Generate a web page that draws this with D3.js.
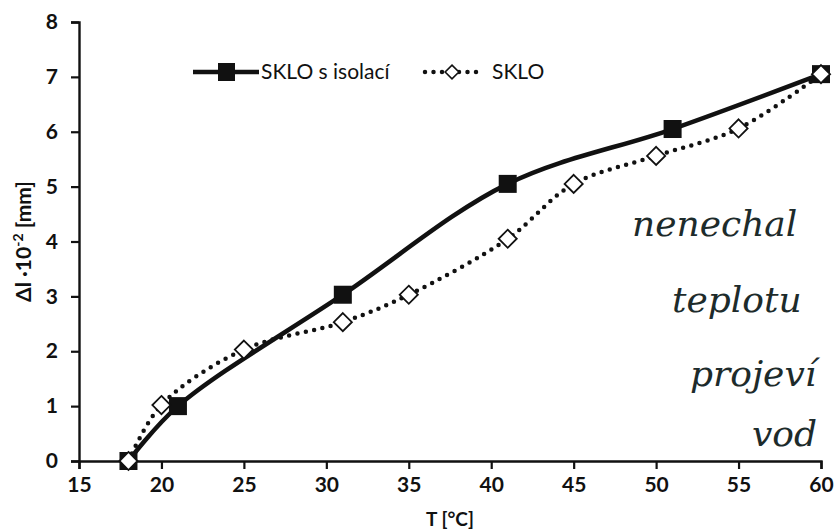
<!DOCTYPE html>
<html>
<head>
<meta charset="utf-8">
<script src="https://cdn.jsdelivr.net/npm/d3@7"></script>
<style>
body{margin:0;background:#fff;}
text{font-family:Lato,"Open Sans",sans-serif;}
</style>
</head>
<body>
<div id="plot"></div>
<script>
// data
var tIso = [18, 21, 31, 41, 51, 60];
var dlIso = [0, 1, 3.03, 5.05, 6.05, 7.05];
var tSklo = [18, 20, 25, 31, 35, 41, 45, 50, 55, 60];
var dlSklo = [0, 1.02, 2.03, 2.53, 3.03, 4.05, 5.05, 5.56, 6.06, 7.05];
var xTicks = [15, 20, 25, 30, 35, 40, 45, 50, 55, 60];
var yTicks = [0, 1, 2, 3, 4, 5, 6, 7, 8];
var seriesNames = ['SKLO s isolací', 'SKLO'];
var note = ['nenechal', 'teplotu', 'projeví', 'vod'];

var W = 837, H = 532;
var margin = {t:22, r:16, b:71, l:79};

var svg = d3.select('#plot').append('svg')
	.attr('width', W).attr('height', H);

var x = d3.scaleLinear().domain([15, 60]).range([margin.l, W - margin.r]);
var y = d3.scaleLinear().domain([0, 8]).range([H - margin.b, margin.t]);

// handwritten note on the sheet (behind the chart)
var notePos = [[632, 236], [672, 312], [690, 386], [752, 446]];
svg.selectAll('.note').data(note).enter().append('text')
	.attr('class', 'note')
	.attr('x', function(d, i){ return notePos[i][0]; })
	.attr('y', function(d, i){ return notePos[i][1]; })
	.style('font-family', '"DejaVu Serif", serif')
	.style('font-style', 'italic')
	.style('font-size', '36px')
	.attr('fill', '#1d2b2b')
	.text(function(d){ return d; });

// axes
var xAxis = svg.append('g')
	.attr('transform', 'translate(0,' + y(0) + ')')
	.call(d3.axisBottom(x).tickValues(xTicks).tickSize(8).tickPadding(8));
var yAxis = svg.append('g')
	.attr('transform', 'translate(' + x(15) + ',0)')
	.call(d3.axisLeft(y).tickValues(yTicks).tickSize(8).tickPadding(13));
[xAxis, yAxis].forEach(function(a){
	a.select('.domain').attr('stroke', '#111').attr('stroke-width', 2.4);
	a.selectAll('.tick line').attr('stroke', '#111').attr('stroke-width', 2.2);
	a.selectAll('.tick text')
		.attr('font-family', 'Lato, sans-serif')
		.attr('font-weight', 'bold')
		.attr('font-size', 21)
		.attr('fill', '#111');
});

// axis titles
svg.append('text')
	.attr('x', (x(15) + x(60)) / 2).attr('y', 526)
	.attr('text-anchor', 'middle')
	.attr('font-weight', 'bold').attr('font-size', 19)
	.attr('fill', '#111')
	.text('T [°C]');

var yt = svg.append('text')
	.attr('transform', 'translate(31,' + ((y(0) + y(8)) / 2) + ') rotate(-90)')
	.attr('text-anchor', 'middle')
	.attr('font-weight', 'bold').attr('font-size', 21)
	.attr('fill', '#111');
yt.append('tspan').text('Δl ·10');
yt.append('tspan').attr('dy', -8).attr('font-size', 14).text('-2');
yt.append('tspan').attr('dy', 8).text(' [mm]');

// lines
var line = d3.line()
	.x(function(d){ return x(d[0]); })
	.y(function(d){ return y(d[1]); })
	.curve(d3.curveCatmullRom.alpha(0.5));

var isoPts = tIso.map(function(t, i){ return [t, dlIso[i]]; });
var skloPts = tSklo.map(function(t, i){ return [t, dlSklo[i]]; });

svg.append('path').datum(skloPts)
	.attr('d', line)
	.attr('fill', 'none').attr('stroke', '#111')
	.attr('stroke-width', 4.5).attr('stroke-linecap', 'round')
	.attr('stroke-dasharray', '0,8.5');

svg.append('path').datum(isoPts)
	.attr('d', line)
	.attr('fill', 'none').attr('stroke', '#111')
	.attr('stroke-width', 4.5);

// markers
svg.selectAll('.sq').data(isoPts).enter().append('rect')
	.attr('class', 'sq')
	.attr('x', function(d){ return x(d[0]) - 9; })
	.attr('y', function(d){ return y(d[1]) - 9; })
	.attr('width', 18).attr('height', 18)
	.attr('fill', '#111');

var diamond = d3.symbol().type(d3.symbolDiamond2).size(210);
svg.selectAll('.dm').data(skloPts).enter().append('path')
	.attr('class', 'dm')
	.attr('d', diamond)
	.attr('transform', function(d){ return 'translate(' + x(d[0]) + ',' + y(d[1]) + ')'; })
	.attr('fill', '#fff').attr('stroke', '#111').attr('stroke-width', 1.8);

// legend
var lg = svg.append('g').attr('transform', 'translate(193,72)');
lg.append('line').attr('x1', 0).attr('x2', 66).attr('stroke', '#111').attr('stroke-width', 4.5);
lg.append('rect').attr('x', 25).attr('y', -9).attr('width', 17).attr('height', 18).attr('fill', '#111');
lg.append('text').attr('x', 68).attr('y', 7)
	.attr('font-size', 21).attr('fill', '#111').text(seriesNames[0]);

lg.append('line').attr('x1', 232).attr('x2', 288).attr('stroke', '#111')
	.attr('stroke-width', 4.5).attr('stroke-linecap', 'round').attr('stroke-dasharray', '0,8.5');
lg.append('path').attr('d', d3.symbol().type(d3.symbolDiamond2).size(120))
	.attr('transform', 'translate(259,0)')
	.attr('fill', '#fff').attr('stroke', '#111').attr('stroke-width', 1.6);
lg.append('text').attr('x', 299).attr('y', 7)
	.attr('font-size', 21).attr('fill', '#111').text(seriesNames[1]);
</script>
</body>
</html>
